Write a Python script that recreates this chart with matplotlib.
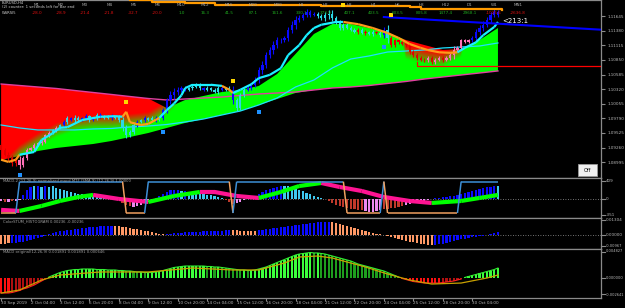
import numpy as np
import matplotlib
matplotlib.use("Agg")
import matplotlib.pyplot as plt
from matplotlib import font_manager as fm
from matplotlib.collections import LineCollection
from matplotlib.patches import Rectangle
from matplotlib.transforms import blended_transform_factory as blend

# ---------------- data ----------------
first_open = 1.0930
closes = [1.0922,1.0913,1.0907,1.0898,1.0904,
          1.0894,
          1.0907,1.0922,1.0925,1.0931,1.0934,
          1.0936,1.0949,1.0953,1.0958,1.0962,
          1.0967,1.0973,1.0980,1.0976,1.0980,
          1.0976,1.0980,1.0983,1.0976,1.0980,
          1.0985,1.0982,1.0980,1.0983,1.0980,
          1.0982,1.0976,1.0962,1.0949,1.0954,
          1.0967,1.0973,1.0976,1.0980,1.0976,
          1.0980,1.0976,1.0980,1.0994,1.1012,
          1.1022,1.1027,1.1031,1.1034,1.1031,
          1.1034,1.1036,1.1040,1.1034,1.1031,
          1.1034,1.1031,1.1027,1.1034,1.1031,
          1.1034,1.1031,1.1012,1.0998,1.1022,
          1.1031,1.1034,1.1040,1.1049,1.1067,
          1.1076,1.1094,1.1103,1.1112,1.1121,
          1.1121,1.1125,1.1140,1.1149,1.1158,
          1.1161,1.1167,1.1172,1.1167,1.1169,
          1.1165,1.1161,1.1167,1.1169,1.1161,
          1.1154,1.1143,1.1149,1.1143,1.1140,
          1.1136,1.1140,1.1134,1.1136,1.1132,
          1.1136,1.1134,1.1130,1.1140,1.1125,
          1.1112,1.1121,1.1118,1.1114,1.1112,
          1.1100,1.1094,1.1089,1.1085,1.1085,
          1.1089,1.1081,1.1085,1.1089,1.1085,
          1.1089,1.1094,1.1103,1.1107,1.1121,
          1.1118,1.1121,1.1125,1.1136,1.1143,
          1.1149,1.1158,1.1167,1.1172,1.1167]
wick_pips = [6,5,8,10,8,
             10,6,5,4,6,4,5,4,
             5,4,6,4,
             5,6,4,8,5,4,6,5,4,6,5,4,5,6,4,5,
             10,8,6,
             5,6,4,5,4,6,5,4,6,
             8,10,12,8,6,5,
             4,5,4,6,4,5,4,4,6,5,4,5,
             10,8, 5,6,
             5,6,8,10,12,10,8,12,10,8,6,8,10,12,8,6,8,6,5,
             6,5,8,12,10,6,5,6,4,5,
             4,5,4,6,4,5,4,6,8,
             14,
             6,5,6,4,5,6,5,6,4,5,
             5,4,6,4,5,4,6,
             12, 5,4,5,4,
             6,8,8,10,8,10,8,6]
candle_kind = ("rrrrr" + "pppppppp" + "pcpc" + "bcbccbbcbcbccbcc" + "ccc" + "cbcbccbcb"
               + "bbbbbb" + "ccccbccccbcc" + "bc" + "cc" + "b" * 19 + "c" * 10
               + "crcrccrcb" + "c" + "r" * 10 + "prpprpp" + "p" + "pppp" + "b" * 8)

# moving-average cloud (sampled every 5 bars)
cloud_x   = list(range(0, 136, 5))
slow_ma   = [1.10414,1.10387,1.10360,1.10333,1.10296,1.10260,1.10224,1.10187,1.10151,1.10124,
             1.10142,1.10160,1.10178,1.10206,1.10233,1.10251,1.10269,1.10306,1.10342,1.10360,
             1.10387,1.10424,1.10460,1.10505,1.10542,1.10578,1.10614,1.10651]
cloud_top = [1.10414,1.10387,1.10360,1.10333,1.10296,1.10260,1.10224,1.10187,1.10151,1.09979,
             1.10124,1.10197,1.10269,1.10306,1.10378,1.10596,1.10959,1.11322,1.11503,1.11503,
             1.11431,1.11340,1.11213,1.11122,1.11032,1.11050,1.11213,1.11431]
cloud_bot = [1.09035,1.09108,1.09198,1.09253,1.09289,1.09325,1.09380,1.09452,1.09525,1.09616,
             1.09707,1.09779,1.09852,1.09924,1.10033,1.10142,1.10251,1.10306,1.10342,1.10360,
             1.10387,1.10424,1.10460,1.10505,1.10542,1.10578,1.10614,1.10651]
red_edge  = [1.08853,1.09180,1.09398,1.09580,1.09688,1.09725,1.09725,1.09743,1.09779,1.09979,
             1.10306,1.125,1.125,1.125,1.125,1.125,1.125,1.125,1.125,1.125,
             1.125,1.125,1.10995,1.10904,1.10850,1.11032,1.125,1.125]
fast_ma2  = [1.09670,1.09616,1.09580,1.09580,1.09580,1.09598,1.09607,1.09634,1.09652,1.09679,
             1.09725,1.09779,1.09852,1.09924,1.10033,1.10160,1.10360,1.10487,1.10705,1.10868,
             1.10923,1.10995,1.11013,1.11032,1.11068,1.11086,1.11104,1.11159]

# trend step line
trend_x = [0,2,4,5,9,11,14,16,18,22,27,31,33,34,35,38,40,43,45,47,49,50,52,57,60,62,63,65,68,70,
           73,76,78,81,83,85,87,91,93,97,101,105,108,111,114,116,119,122,124,126,129,131,134,135]
trend_y = [1.0904,1.0900,1.0904,1.0913,1.0918,1.0940,1.0952,1.0962,1.0963,1.0976,
           1.0982,1.0983,1.0982,1.0991,1.0972,1.0967,1.0969,1.0980,1.0994,1.1006,
           1.1021,1.1034,1.1040,1.1040,1.1038,1.1031,1.1025,1.1031,1.1041,1.1052,
           1.1058,1.1070,1.1094,1.1112,1.1130,1.1143,1.1149,1.1154,1.1154,1.1150,
           1.1143,1.1134,1.1125,1.1114,1.1107,1.1103,1.1099,1.1098,1.1099,1.1107,
           1.1117,1.1130,1.1145,1.1154]
trend_state = "ooo" + "c" * 9 + "o" * 5 + "c" * 7 + "oo" + "c" * 12 + "o" * 10 + "c" * 6

dots_blue_x, dots_blue_y = [5, 44, 70, 104], [1.08763, 1.0954, 1.0990, 1.1108]
dots_yel_x, dots_yel_y = [34, 63, 93, 106], [1.1009, 1.1047, 1.1185, 1.1167]

top_line_x = [35, 41, 50, 58, 87, 111, 114, 136]
top_line_y = [1.1194, 1.1190, 1.1188, 1.1185, 1.1183, 1.1181, 1.1178, 1.1176]
blue_tl_x, blue_tl_y = [104, 163], [1.1163, 1.1140]
red_level_x, red_level_y = [113, 113, 163], [1.1081, 1.1075, 1.1075]

price_ticks = [1.11645,1.11380,1.11115,1.10850,1.10585,1.10320,1.10055,1.09790,1.09525,1.09260,1.08995]

# MACD-2 panel
p2_hist = [-38,-58,-58,-38,-38,-19,
           77,173,230,250,250, 230,250,230,250,211, 192,173,154,134,115, 96,96,77,77,58,
           58,38,38,19,19,10,
           -19,-77,-115,-134,-154, -134,-115,-77,-58,-19, 19,58,96,134,173, 173,173,154,154,134,
           134,115,115,96,77, 77,58,38,19,-19, -58,-96,-77,-58,-19, 19,38,58,96,134,
           173,192,211,230,250, 250,250,230,211,173, 154,115,96,58,38, 19,0,-38,-77,-115,
           -134,-154,-173,-192,-192, -211,-211,-230,-250,-250, -230,-211,-192,-192,-173,
           -173,-154,-134,-115,-96, -77,-58,-38,-38,-19, 0,19,19,38,38, 58,58,77,96,115,
           134,154,173,192,211, 230,230,250,250]
p2_kind = ("VRVRVV" + "BBBCB" + "CBCCC" + "C" * 16 + "RRRR" + "VVVVVV" + "BBBBB" + "BBCBC"
           + "C" * 9 + "RRR" + "VVV" + "B" * 10 + "C" * 11 + "R" * 11 + "V" * 5 + "R" * 6
           + "V" * 7 + "B" * 5 + "B" * 13 + "C")
p2_sig_x = [0,5,11,16,21,25,32,40,47,54,58,64,70,76,81,87,92,98,104,111,117,125,130,135]
p2_sig_y = [-205,-225,-129,-33,44,83,6,-52,63,140,140,63,25,140,255,313,236,159,44,-33,-71,-33,25,83]
p2_step = ([-265] * 5 + [340] * 29 + [-265] * 6 + [340] * 23 + [-265] * 1 + [340] * 30
           + [-265] * 10 + [340] * 1 + [-265] * 20 + [340] * 11)

# ColorSTUM histogram
p3_hist = [-0.00660,-0.00660,-0.00586,
           -0.00586,-0.00586,-0.00513,-0.00513,-0.00440,-0.00367,-0.00293,-0.00220,
           -0.00147,-0.00073,0.00073,0.00147,
           0.00220,0.00293,0.00330,0.00367,0.00403,0.00440,0.00476,0.00513,0.00550,0.00586,
           0.00586,0.00623,0.00660,0.00660,0.00696,0.00696,
           0.00696,0.00660,0.00623,0.00586,0.00513,0.00476,0.00440,0.00367,0.00330,0.00293,
           0.00220,0.00183,0.00110,0.00073,
           0.00073,0.00110,0.00147,0.00147,0.00183,0.00220,0.00220,0.00220,0.00257,0.00257,
           0.00293,0.00293,0.00293,0.00330,0.00330,0.00330,0.00367,0.00367,
           0.00367,0.00367,0.00330,0.00330,0.00330,0.00293,0.00293,
           0.00367,0.00403,0.00440,0.00476,0.00513,0.00550,0.00586,0.00623,0.00660,0.00696,
           0.00733,0.00770,0.00806,0.00843,0.00880,0.00916,0.00953,0.00953,0.00990,0.00990,
           0.00990,0.00916,0.00843,0.00770,0.00696,0.00623,0.00550,0.00476,0.00403,0.00330,
           0.00257,0.00183,0.00110,0.00073,0.00037,
           -0.00073,-0.00147,-0.00220,-0.00293,-0.00367,-0.00403,-0.00476,-0.00513,-0.00586,
           -0.00623,-0.00660,-0.00696,
           -0.00711,
           -0.00696,-0.00660,-0.00623,-0.00586,-0.00513,-0.00440,-0.00367,-0.00293,-0.00257,
           -0.00220,-0.00147,-0.00110,-0.00073,
           -0.00037,0.00037,0.00073,0.00147,0.00220]
p3_kind = "O" * 3 + "B" * 28 + "O" * 14 + "B" * 18 + "O" * 7 + "B" * 20 + "O" * 28 + "B" * 18

# MACD original
p4_hist = [-0.00227,-0.00227,-0.00227,-0.00219,
           -0.00204,-0.00189,-0.00166,-0.00151,
           -0.00128,-0.00106,-0.00076,-0.00045,
           -0.00015,
           0.00015,0.00038,0.00060,0.00083,
           0.00098,0.00113,0.00121,0.00128,
           0.00128,0.00136,0.00136,0.00136,0.00136,0.00128,0.00128,0.00128,0.00121,0.00121,
           0.00121,0.00113,0.00113,0.00106,0.00106,0.00098,0.00091,0.00091,0.00083,0.00083,
           0.00083,0.00091,0.00098,0.00113,
           0.00128,0.00143,0.00159,0.00166,0.00174,0.00181,0.00181,0.00181,
           0.00181,0.00181,0.00181,0.00174,0.00174,0.00166,0.00166,0.00159,0.00151,
           0.00143,0.00136,0.00128,0.00121,0.00121,0.00113,0.00113,0.00121,
           0.00136,0.00151,0.00166,0.00189,0.00211,0.00234,0.00257,0.00279,0.00302,0.00325,0.00347,
           0.00362,0.00370,0.00378,0.00385,0.00378,0.00378,
           0.00370,0.00362,0.00347,0.00332,0.00317,0.00302,0.00287,0.00272,0.00257,0.00234,0.00211,0.00196,
           0.00181,0.00166,0.00151,0.00136,0.00121,0.00106,0.00083,0.00060,0.00038,
           0.00015,-0.00008,-0.00023,-0.00038,
           -0.00053,-0.00060,-0.00068,-0.00076,-0.00076,-0.00076,-0.00076,-0.00076,-0.00068,-0.00060,-0.00053,-0.00045,
           -0.00030,-0.00015,0.00008,0.00023,0.00038,
           0.00053,0.00068,0.00083,0.00098,0.00113,0.00128,0.00151]
p4_sig_x = [0,5,11,16,27,40,52,63,70,77,81,86,90,99,105,111,117,125,132,135]
p4_sig_y = [-0.00227,-0.00181,-0.00030,0.00045,0.00091,0.00091,0.00151,0.00121,0.00121,0.00227,
            0.00317,0.00332,0.00302,0.00166,0.00060,-0.00030,-0.00091,-0.00076,0.00000,0.00045]

time_tick_bars = [0,8,16,24,32,40,48,56,64,72,80,88,96,104,112,120,128]
time_labels = ["30 Sep 2019","2 Oct 04:00","3 Oct 12:00","6 Oct 20:00","8 Oct 04:00","9 Oct 12:00",
               "10 Oct 20:00","14 Oct 04:00","15 Oct 12:00","16 Oct 20:00","18 Oct 04:00",
               "21 Oct 12:00","22 Oct 20:00","24 Oct 04:00","25 Oct 12:00","28 Oct 20:00","30 Oct 04:00"]

tf_names = ["M1","M2","M3","M4","M5","M6","M10","M12","M15","M20","M30",
            "H1","H2","H3","H4","H6","H8","H12","D1","W1","MN1"]
tf_values = [-28.0,-28.9,-21.4,-21.8,-32.7,-20.0,1.0,16.3,41.5,87.1,161.6,
             330.1,373.9,407.1,403.5,603.5,805.8,1477.4,2968.1,-1025.6,-2636.8]

# ---------------- style ----------------
W, H = 625.0, 308.0
AX_R = 601.0
GRID = "#8a8a8a"
TXT = "#b8b8b8"
_names = {f.name for f in fm.fontManager.ttflist}
if "Liberation Sans Narrow" in _names:
    SMALL = ["Liberation Sans Narrow", "DejaVu Sans"]
    FS = 4.1
else:
    SMALL = ["DejaVu Sans"]
    FS = 3.0
plt.rcParams["font.family"] = SMALL

fig = plt.figure(figsize=(W / 100, H / 100), dpi=100, facecolor="black")


def add_ax(top, bottom):
    a = fig.add_axes([0, 1 - bottom / H, AX_R / W, (bottom - top) / H])
    a.set_facecolor("black")
    for k, s in a.spines.items():
        s.set_color(GRID)
        s.set_linewidth(0.9)
    a.spines["left"].set_visible(False)
    a.set_xticks([])
    a.set_yticks([])
    a.set_xlim(-0.3, 163)
    return a


def side_labels(a, texts, mid_val):
    # MetaTrader style: window max at top edge, window min at bottom edge, zero in between
    trd = blend(a.transAxes, a.transData)
    tra = a.transAxes
    fs = [FS if len(t) <= 7 else FS * 0.86 for t in texts]
    a.plot([1, 1 + 4 / AX_R], [mid_val, mid_val], color=GRID, lw=0.8, transform=trd, clip_on=False)
    a.text(1 + 5 / AX_R, mid_val, texts[1], transform=trd, ha="left", va="center", fontsize=fs[1], color=TXT)
    for yy, t, va, f in [(0.985, texts[0], "top", fs[0]), (0.015, texts[2], "bottom", fs[2])]:
        a.plot([1, 1 + 4 / AX_R], [yy - (0.06 if va == "top" else -0.06)] * 2, color=GRID, lw=0.8,
               transform=tra, clip_on=False)
        a.text(1 + 5 / AX_R, yy, t, transform=tra, ha="left", va=va, fontsize=f, color=TXT)


n = len(closes)
idx = np.arange(n)
closes_a = np.array(closes)
opens_a = np.array([first_open] + closes[:-1])
wk = np.array(wick_pips) * 0.0001
hi = np.maximum(opens_a, closes_a) + wk * 0.6
lo = np.minimum(opens_a, closes_a) - wk * 0.6

# ---------------- main panel ----------------
ax = add_ax(0, 178)
y0, y1 = 1.08708, 1.11939
ax.set_ylim(y0, y1)

nx, ny = 1200, 500
xg = np.linspace(-0.3, 163, nx)
yg = np.linspace(y0, y1, ny)
edge = np.interp(xg, cloud_x, red_edge)
alpha = np.clip((yg[:, None] - edge[None, :]) / 0.0026 + 0.5, 0, 1)
rgb = np.zeros((ny, nx, 3))
rgb[..., 0] = alpha
rgb[..., 1] = 1 - alpha
im = ax.imshow(rgb, extent=[-0.3, 163, y0, y1], origin="lower", aspect="auto",
               interpolation="bilinear", zorder=1)
poly = ax.fill_between(cloud_x, cloud_bot, cloud_top, color="none", lw=0, zorder=1)
im.set_clip_path(poly.get_paths()[0], transform=ax.transData)
ax.set_xlim(-0.3, 163)
ax.set_ylim(y0, y1)

ax.plot(cloud_x, slow_ma, color="#e040a0", lw=1.0, zorder=3)
ax.plot(cloud_x, fast_ma2, color="#1ee0ff", lw=0.9, zorder=3)

ccol = {"r": "#e00000", "p": "#ff70b8", "b": "#0a0aff", "c": "#2cd8e4"}
cols = [ccol[k] for k in candle_kind[:n]]
ax.vlines(idx, lo, hi, colors=cols, lw=0.8, zorder=4)
body = closes_a - opens_a
body = np.where(np.abs(body) < 0.00008, 0.00008, body)
ax.bar(idx, body, bottom=opens_a, width=0.6, color=cols, lw=0, zorder=4)

segs = [[(trend_x[k], trend_y[k]), (trend_x[k + 1], trend_y[k + 1])] for k in range(len(trend_x) - 1)]
tcol = ["#ff9a1a" if trend_state[k] == "o" else "#19f0ff" for k in range(len(trend_x) - 1)]
ax.add_collection(LineCollection(segs, colors=tcol, linewidths=1.6, zorder=5))

ax.scatter(dots_blue_x, dots_blue_y, s=5, color="#1e90ff", marker="s", lw=0, zorder=6)
ax.scatter(dots_yel_x, dots_yel_y, s=5, color="#ffd700", marker="s", lw=0, zorder=6)

ax.step(top_line_x, top_line_y, where="post", color="#ff9a00", lw=1.6, zorder=5)
ax.plot(blue_tl_x, blue_tl_y, color="#0000ff", lw=1.5, zorder=5)
ax.plot(red_level_x, red_level_y, color="#ff0000", lw=0.9, zorder=5)
ax.text(136.3, 1.1156, "<213:1", color="white", fontsize=5.0, va="center", ha="left", zorder=7)

ax.yaxis.tick_right()
ax.set_yticks(price_ticks)
ax.set_yticklabels([f"{v:.5f}" for v in price_ticks])
ax.tick_params(axis="y", colors=GRID, labelcolor=TXT, labelsize=FS, length=3, width=0.8, pad=1.5)

# header
HFS = FS * 0.9
fig.text(2 / W, 1 - 0.5 / H, "EURUSD,H4", fontsize=HFS, color="#d0d0d0", va="top")
fig.text(2 / W, 1 - 5.5 / H, "(2) counter: 1 seconds left for bar end", fontsize=HFS, color="#d0d0d0", va="top")
fig.text(2 / W, 1 - 10.5 / H, "WSRSI5", fontsize=HFS, color="#d0d0d0", va="top")
for k, (nm, v) in enumerate(zip(tf_names, tf_values)):
    xc = 37 + 24.05 * k
    fig.text(xc / W, 1 - 5 / H, nm, fontsize=FS, color="#a8a8a8", ha="center", va="center")
    fig.text(xc / W, 1 - 13 / H, f"{v:.1f}", fontsize=FS,
             color=("#e01010" if v < 0 else "#1faa1f"), ha="center", va="center")

# Off button
fig.patches.append(Rectangle((578 / W, 1 - 176 / H), 19 / W, 12 / H, transform=fig.transFigure,
                             facecolor="#f0f0f0", edgecolor="#9a9a9a", lw=0.6))
fig.text(587.5 / W, 1 - 170 / H, "Off", fontsize=FS + 0.6, color="black", ha="center", va="center")

# ---------------- panel 2 ----------------
ax2 = add_ax(178, 217.5)
ax2.set_ylim(-351, 409)
ax2.axhline(0, color="#9a9a9a", lw=0.6, ls=(0, (1, 2)), zorder=1)
p2c = {"B": "#0a0aff", "C": "#40c8f0", "R": "#c0392b", "V": "#ee88ee"}
ax2.bar(idx, p2_hist, width=0.6, color=[p2c[k] for k in p2_kind[:n]], lw=0, zorder=2)
segs = [[(p2_sig_x[k], p2_sig_y[k]), (p2_sig_x[k + 1], p2_sig_y[k + 1])] for k in range(len(p2_sig_x) - 1)]
scol = ["#00ff00" if p2_sig_y[k + 1] > p2_sig_y[k] else "#ff1493" for k in range(len(p2_sig_x) - 1)]
ax2.add_collection(LineCollection(segs, colors=scol, linewidths=3.0, zorder=3, capstyle="butt"))
segs = [[(k, p2_step[k]), (k + 1, p2_step[k + 1])] for k in range(n - 1)]
stc = ["#3d8fd6" if p2_step[k + 1] > 0 else "#f0a060" for k in range(n - 1)]
ax2.add_collection(LineCollection(segs, colors=stc, linewidths=1.1, zorder=4))
side_labels(ax2, ["409", "0", "-351"], 0)
fig.text(3 / W, 1 - 179.5 / H, "MACD-2 (12,26,9) normalized macd MTF (SMA 9) (12,26,9) 1.00000",
         fontsize=HFS, color="#a0a0a0", va="top")

# ---------------- panel 3 ----------------
ax3 = add_ax(217.5, 248.5)
ax3.set_ylim(-0.00967, 0.01304)
ax3.axhline(0, color="#9a9a9a", lw=0.6, ls=(0, (1, 2)), zorder=1)
p3c = {"O": "#ff9966", "B": "#0a0aff"}
ax3.bar(idx, p3_hist, width=0.6, color=[p3c[k] for k in p3_kind[:n]], lw=0, zorder=2)
side_labels(ax3, ["0.01304", "0.00000", "-0.00967"], 0.0)
fig.text(3 / W, 1 - 219 / H, "ColorSTUM_HISTOGRAM 0.00236 -0.00236", fontsize=HFS, color="#a0a0a0", va="top")

# ---------------- panel 4 ----------------
ax4 = add_ax(248.5, 298)
ax4.set_ylim(-0.00302, 0.004455)
h4 = np.array(p4_hist)
d4 = np.diff(np.concatenate([[h4[0]], h4]))
c4 = []
for v, d in zip(h4, d4):
    if v >= 0:
        c4.append("#3cff3c" if d >= 0 else "#1e9e1e")
    else:
        c4.append("#ff1010" if d <= 0 else "#b01010")
ax4.bar(idx, h4, width=0.6, color=c4, lw=0, zorder=2)
ax4.plot(idx, np.where(h4 >= 0, h4, np.nan), color="#33ee33", lw=0.8, zorder=3)
ax4.plot(idx, np.where(h4 <= 0, h4, np.nan), color="#ff2020", lw=0.8, zorder=3)
ax4.plot(p4_sig_x, p4_sig_y, color="#c8a000", lw=0.9, zorder=4)
side_labels(ax4, ["0.004827", "0.000000", "-0.002641"], 0.0)
fig.text(3 / W, 1 - 250 / H, "MACD original(12,26,9) 0.001891 0.001891 0.000646",
         fontsize=HFS, color="#a0a0a0", va="top")

ax4.set_xticks(time_tick_bars)
ax4.set_xticklabels(time_labels)
ax4.tick_params(axis="x", colors=GRID, labelcolor=TXT, labelsize=FS, length=2, width=0.8, pad=0.3)
for lb in ax4.get_xticklabels():
    lb.set_ha("left")

fig.savefig("out.png", dpi=100, facecolor="black")
